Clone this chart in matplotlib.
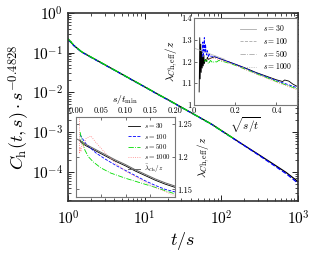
import numpy as np
import matplotlib
matplotlib.use("Agg")
import matplotlib.pyplot as plt

plt.rcParams['font.family'] = 'serif'
plt.rcParams['font.serif'] = ['cmr10', 'DejaVu Serif']
plt.rcParams['mathtext.fontset'] = 'cm'
plt.rcParams['axes.formatter.use_mathtext'] = True
plt.rcParams['axes.unicode_minus'] = False

# main panel: C_h(t,s) s^-0.4828 vs t/s
t_main = [1, 1.2, 1.5, 2, 3, 5, 7, 10, 15, 20, 30, 50, 75, 100, 150, 200, 300, 500, 700, 1000]
c_s30 = [0.22, 0.15, 0.105, 0.077, 0.050, 0.029, 0.0202, 0.0138, 0.0089, 0.0066, 0.00425,
         0.00245, 0.00158, 0.0011, 0.00066, 0.00046, 0.00028, 0.000148, 0.0000967, 0.000057]
c_s100 = [0.215, 0.148, 0.104, 0.076, 0.0495, 0.0288, 0.0200, 0.0137, 0.0088, 0.0065, 0.0042,
          0.00243, 0.00156, 0.00108, 0.00065, 0.000455, 0.000272, 0.000140, 0.000090, 0.000052]
c_s500 = [0.225, 0.152, 0.106, 0.0775, 0.0502, 0.0291, 0.0203, 0.0139, 0.0089, 0.0066, 0.00424,
          0.00244, 0.00157, 0.00109, 0.00066]
t_s500 = t_main[:15]

# inset 2: lambda_eff/z vs s/t_min
x_gray = [0.0, 0.01, 0.02, 0.04, 0.06, 0.08, 0.10, 0.12, 0.14, 0.16, 0.18, 0.20]
y_gray = [1.228, 1.224, 1.219, 1.211, 1.203, 1.195, 1.188, 1.180, 1.173, 1.166, 1.160, 1.155]
x_b30 = [0.008, 0.01, 0.02, 0.04, 0.06, 0.08, 0.10, 0.12, 0.14, 0.16, 0.18, 0.20]
y_b30 = [1.226, 1.222, 1.217, 1.209, 1.201, 1.193, 1.186, 1.178, 1.171, 1.164, 1.158, 1.153]
x_b100 = [0.008, 0.012, 0.02, 0.04, 0.06, 0.08, 0.10, 0.12, 0.14, 0.16, 0.18, 0.20]
y_b100 = [1.234, 1.229, 1.220, 1.206, 1.196, 1.187, 1.179, 1.171, 1.163, 1.156, 1.150, 1.146]
x_b500 = [0.008, 0.012, 0.018, 0.025, 0.035, 0.05, 0.07, 0.10, 0.13, 0.16, 0.20]
y_b500 = [1.238, 1.225, 1.210, 1.200, 1.192, 1.183, 1.175, 1.167, 1.160, 1.153, 1.143]
x_b1000 = [0.007, 0.007, 0.008, 0.010, 0.012, 0.015, 0.02, 0.03, 0.04, 0.06, 0.08, 0.10, 0.13, 0.16, 0.20]
y_b1000 = [1.262, 1.205, 1.215, 1.208, 1.222, 1.215, 1.228, 1.232, 1.222, 1.205, 1.190, 1.178, 1.165, 1.153, 1.140]

# inset 1: lambda_eff/z vs sqrt(s/t)
x_a30 = [0.025, 0.028, 0.03, 0.033, 0.035, 0.038, 0.04, 0.043, 0.045, 0.048, 0.05, 0.055, 0.06,
         0.065, 0.07, 0.08, 0.1, 0.15, 0.2, 0.25, 0.3, 0.35, 0.4, 0.43, 0.44, 0.46, 0.48, 0.5]
y_a30 = [1.06, 1.31, 1.12, 1.28, 1.15, 1.25, 1.17, 1.22, 1.18, 1.23, 1.19, 1.21, 1.20,
         1.22, 1.21, 1.215, 1.222, 1.205, 1.188, 1.170, 1.150, 1.133, 1.116, 1.108, 1.115, 1.110, 1.096, 1.086]
x_a100 = [0.04, 0.043, 0.046, 0.05, 0.053, 0.056, 0.06, 0.065, 0.07, 0.075, 0.08, 0.1, 0.15, 0.2,
          0.25, 0.3, 0.35, 0.4, 0.45, 0.5]
y_a100 = [1.22, 1.29, 1.23, 1.31, 1.24, 1.28, 1.23, 1.25, 1.22, 1.235, 1.225, 1.223, 1.205, 1.187,
          1.168, 1.148, 1.130, 1.112, 1.096, 1.080]
x_a500 = [0.05, 0.06, 0.07, 0.08, 0.09, 0.1, 0.11, 0.12, 0.15, 0.2, 0.25, 0.3, 0.35, 0.4, 0.45, 0.5]
y_a500 = [1.20, 1.21, 1.19, 1.205, 1.195, 1.2, 1.198, 1.205, 1.198, 1.183, 1.164, 1.145, 1.127, 1.108, 1.091, 1.074]
x_a1000 = [0.06, 0.08, 0.1, 0.15, 0.2, 0.25, 0.3, 0.35, 0.4, 0.45, 0.5]
y_a1000 = [1.21, 1.215, 1.215, 1.2, 1.183, 1.163, 1.143, 1.124, 1.105, 1.088, 1.070]
x_afit = [0.0, 0.15]
y_afit = [1.262, 1.21]

fig = plt.figure(figsize=(3.17, 2.58), dpi=100)
ax = fig.add_axes([0.2145, 0.221, 0.7255, 0.729])
ax.plot(t_main, c_s30, 'k-', lw=0.9)
ax.plot(t_main, c_s100, color='blue', ls='--', lw=0.9)
ax.plot(t_s500, c_s500, color='#00dd00', ls='-.', lw=0.9)
ax.set_xscale('log')
ax.set_yscale('log')
ax.set_xlim(1, 1000)
ax.set_ylim(1.85e-5, 1)
ax.tick_params(which='both', direction='in', top=True, right=True, labelsize=11)
ax.tick_params(axis='x', pad=6)
ax.tick_params(which='major', length=4, width=0.6)
ax.tick_params(which='minor', length=2, width=0.5)
for sp in ax.spines.values():
    sp.set_linewidth(1.2)
    sp.set_color('#333333')
ax.set_xlabel(r'$t/s$', fontsize=13, labelpad=2)
ax.set_ylabel(r'$C_{\mathrm{h}}(t,s)\cdot s^{-0.4828}$', fontsize=13, labelpad=0)

# top right inset
a1 = fig.add_axes([0.612, 0.593, 0.325, 0.337])
a1.plot(x_a30, y_a30, 'k-', lw=0.6, label=r'$s=30$')
a1.plot(x_a100, y_a100, color='blue', ls='--', lw=0.6, label=r'$s=100$')
a1.plot(x_a500, y_a500, color='#00dd00', ls='-.', lw=0.6, label=r'$s=500$')
a1.plot(x_a1000, y_a1000, color='#ff8080', ls=':', lw=0.6, label=r'$s=1000$')
a1.plot(x_afit, y_afit, color='#bbbbbb', lw=0.6)
a1.set_xlim(0, 0.5)
a1.set_ylim(1, 1.4)
a1.set_xticks([0, 0.2, 0.4])
a1.set_xticklabels(['0', '0.2', '0.4'])
a1.set_yticks([1, 1.1, 1.2, 1.3, 1.4])
a1.set_yticklabels(['1', '1.1', '1.2', '1.3', '1.4'])
a1.tick_params(direction='in', labelsize=6, length=2, width=0.4, pad=1.5)
a1.set_xlabel(r'$\sqrt{s/t}$', fontsize=8, labelpad=0)
a1.set_ylabel(r'$\lambda_{C\mathrm{h,eff}}/z$', fontsize=8, labelpad=1)
for sp in a1.spines.values():
    sp.set_linewidth(0.8)
    sp.set_color('#777777')
leg1 = a1.legend(loc='upper right', fontsize=5.5, frameon=False, handlelength=2.2,
                 labelspacing=0.3, borderaxespad=0.3)
for h in leg1.get_lines():
    h.set_color('#aaaaaa')

# bottom left inset
a2 = fig.add_axes([0.240, 0.236, 0.312, 0.310])
a2.plot(x_b30, y_b30, 'k-', lw=0.6, label=r'$s=30$')
a2.plot(x_b100, y_b100, color='blue', ls='--', lw=0.6, label=r'$s=100$')
a2.plot(x_b500, y_b500, color='#00dd00', ls='-.', lw=0.6, label=r'$s=500$')
a2.plot(x_b1000, y_b1000, color='#ff8080', ls=':', lw=0.6, label=r'$s=1000$')
a2.plot(x_gray, y_gray, color='#666666', lw=0.7, label=r'$\bar{\lambda}_{C\mathrm{h}}/z$')
a2.set_xlim(0, 0.2)
a2.set_ylim(1.138, 1.261)
a2.set_xticks([0, 0.05, 0.10, 0.15, 0.20])
a2.set_xticklabels(['0.00', '0.05', '0.10', '0.15', '0.20'])
a2.set_yticks([1.15, 1.2, 1.25])
a2.set_yticklabels(['1.15', '1.2', '1.25'])
a2.xaxis.tick_top()
a2.xaxis.set_label_position('top')
a2.yaxis.tick_right()
a2.yaxis.set_label_position('right')
a2.tick_params(direction='in', labelsize=6, length=2, width=0.4, pad=1.5,
               bottom=True, left=True, top=True, right=True)
a2.set_xlabel(r'$s/t_{\mathrm{min}}$', fontsize=7, labelpad=3.5)
a2.set_ylabel(r'$\lambda_{C\mathrm{h,eff}}/z$', fontsize=8, labelpad=3)
for sp in a2.spines.values():
    sp.set_linewidth(0.8)
    sp.set_color('#777777')
a2.legend(loc='upper right', fontsize=5, frameon=False, handlelength=1.8,
          labelspacing=0.2, borderaxespad=0.2, handletextpad=0.6)

fig.savefig('out.png', dpi=100)
